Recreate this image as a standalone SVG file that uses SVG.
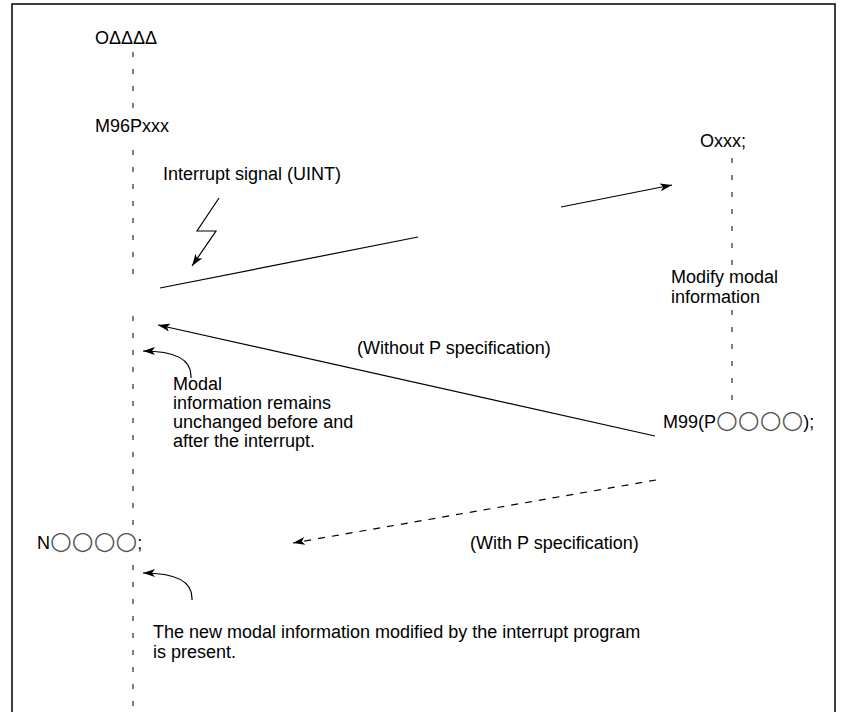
<svg xmlns="http://www.w3.org/2000/svg" width="849" height="712" viewBox="0 0 849 712">
<defs>
<style>
text{font-family:"Liberation Sans",Arial,"DejaVu Sans",sans-serif;font-size:18px;fill:#000}
.c{font-family:"DejaVu Sans",sans-serif;font-size:25px;fill:#555}
.ln{stroke:#000;stroke-width:1.2;fill:none}
.dash{stroke:#000;stroke-width:1;stroke-dasharray:5 12;fill:none}
.dl{stroke:#000;stroke-width:1.2;stroke-dasharray:7 7;fill:none}
</style>
<marker id="ah" viewBox="0 0 12 8" refX="12" refY="4" markerWidth="12" markerHeight="8" markerUnits="userSpaceOnUse" orient="auto">
<path d="M0,0 L12,4 L0,8 L3,4 Z" fill="#000"/>
</marker>
</defs>
<rect width="849" height="712" fill="#fff"/>
<path d="M12,712 V4 H835 V712" stroke="#000" stroke-width="1.5" fill="none"/>
<g id="connectors">
<line class="dash" x1="133" y1="52" x2="133" y2="112"/>
<line class="dash" x1="133" y1="150" x2="133" y2="284"/>
<line class="dash" x1="133" y1="316" x2="133" y2="535"/>
<line class="dash" x1="133" y1="565" x2="133" y2="712"/>
<line class="dash" x1="732" y1="158" x2="732" y2="272"/>
<line class="dash" x1="732" y1="310" x2="732" y2="408"/>
<polyline class="ln" points="219,198 197,231 216,231 192,266" marker-end="url(#ah)"/>
<line class="ln" x1="160" y1="288" x2="418" y2="237"/>
<line class="ln" x1="561" y1="207" x2="672" y2="185" marker-end="url(#ah)"/>
<line class="ln" x1="655" y1="436" x2="158" y2="325" marker-end="url(#ah)"/>
<line class="dl" x1="656" y1="480" x2="293" y2="543" marker-end="url(#ah)"/>
<path class="ln" d="M191,378 V376 Q191,351 143,351" marker-end="url(#ah)"/>
<path class="ln" d="M192,600 V598 Q192,573 143,573" marker-end="url(#ah)"/>
</g>
<g id="main">
<text x="95" y="44">OΔΔΔΔ</text>
<text x="95" y="132">M96Pxxx</text>
<text x="37" y="549">N<tspan class="c">○○○○</tspan>;</text>
</g>
<g id="interrupt">
<text x="163" y="180">Interrupt signal (UINT)</text>
</g>
<g id="sub">
<text x="700" y="147">Oxxx;</text>
<text x="671" y="283">Modify modal</text>
<text x="671" y="303">information</text>
<text x="663" y="428">M99(P<tspan class="c">○○○○</tspan>);</text>
</g>
<g id="labels">
<text x="357" y="354">(Without P specification)</text>
<text x="470" y="549">(With P specification)</text>
<text x="173" y="390">Modal</text>
<text x="173" y="409">information remains</text>
<text x="173" y="428">unchanged before and</text>
<text x="173" y="447">after the interrupt.</text>
<text x="153" y="638">The new modal information modified by the interrupt program</text>
<text x="153" y="658">is present.</text>
</g>
</svg>
